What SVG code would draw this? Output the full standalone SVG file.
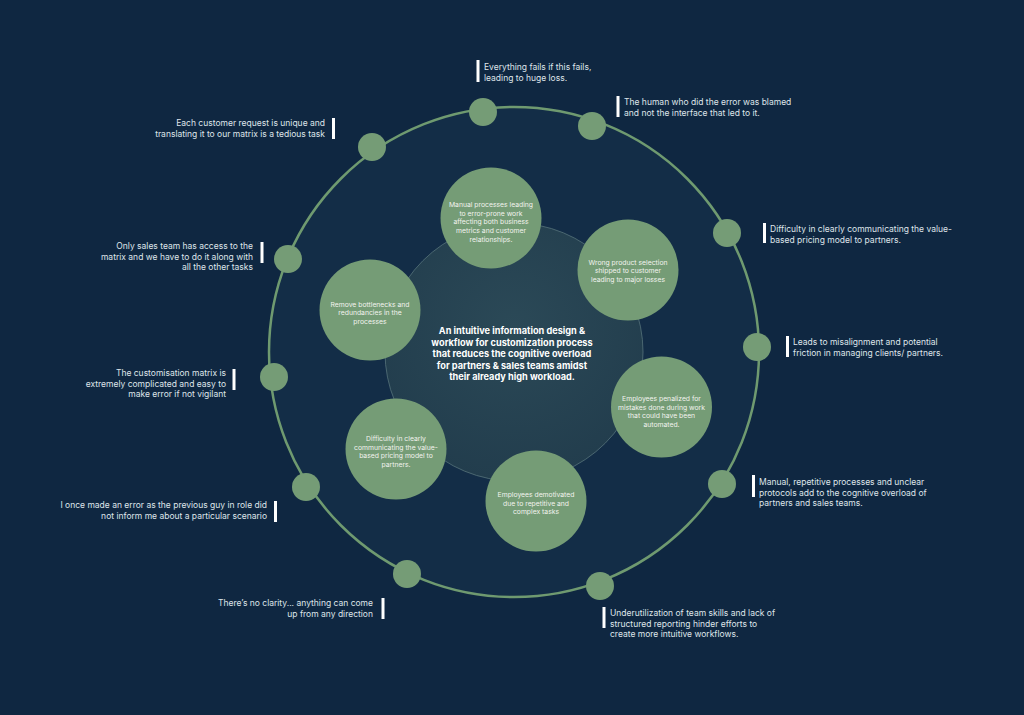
<svg xmlns="http://www.w3.org/2000/svg" width="1024" height="715" viewBox="0 0 1024 715">
<defs>
<radialGradient id="core" cx="50%" cy="40%" r="60%">
<stop offset="0" stop-color="#2b4957"/>
<stop offset="1" stop-color="#223d4d"/>
</radialGradient>
</defs>
<style>
.lbl{font-family:Inter,"Liberation Sans",sans-serif;font-size:8.5px;fill:#dfe5ea}
.r{text-anchor:end}
.bar{fill:#ffffff}
.g{fill:#759c76}
.gt{font-family:Inter,"Liberation Sans",sans-serif;font-size:6.8px;fill:#f2f3ee;text-anchor:middle}
.tt{font-family:Inter,"Liberation Sans",sans-serif;font-size:9.2px;font-weight:700;fill:#ffffff;text-anchor:middle}
.dot{fill:#759c76}
</style>
<rect width="1024" height="715" fill="#0f2741"/>
<g id="connectors">
<circle cx="514" cy="352" r="245" fill="#132d47" stroke="#6f9a70" stroke-width="2.5"/>
</g>
<g id="core-node">
<circle cx="514" cy="352" r="129" fill="url(#core)" stroke="#56727a" stroke-width="0.8"/>
<text class="tt"><tspan x="512" y="334">An intuitive information design &amp;</tspan><tspan x="512" y="345.5">workflow for customization process</tspan><tspan x="512" y="357">that reduces the cognitive overload</tspan><tspan x="512" y="368.5">for partners &amp; sales teams amidst</tspan><tspan x="512" y="380">their already high workload.</tspan></text>
</g>
<g id="node-manual">
<circle class="g" cx="491" cy="218" r="50.5"/>
<text class="gt"><tspan x="491" y="207">Manual processes leading</tspan><tspan x="491" y="215.7">to error-prone work</tspan><tspan x="491" y="224.4">affecting both business</tspan><tspan x="491" y="233.1">metrics and customer</tspan><tspan x="491" y="241.8">relationships.</tspan></text>
</g>
<g id="node-wrong">
<circle class="g" cx="628" cy="270" r="50.5"/>
<text class="gt"><tspan x="628" y="264.5">Wrong product selection</tspan><tspan x="628" y="273.2">shipped to customer</tspan><tspan x="628" y="281.9">leading to major losses</tspan></text>
</g>
<g id="node-remove">
<circle class="g" cx="370" cy="310" r="50.5"/>
<text class="gt"><tspan x="370" y="306.5">Remove bottlenecks and</tspan><tspan x="370" y="315.2">redundancies in the</tspan><tspan x="370" y="323.9">processes</tspan></text>
</g>
<g id="node-penalized">
<circle class="g" cx="661.5" cy="407" r="50.5"/>
<text class="gt"><tspan x="661.5" y="401">Employees penalized for</tspan><tspan x="661.5" y="409.7">mistakes done during work</tspan><tspan x="661.5" y="418.4">that could have been</tspan><tspan x="661.5" y="427.1">automated.</tspan></text>
</g>
<g id="node-difficulty">
<circle class="g" cx="396" cy="449" r="50.5"/>
<text class="gt"><tspan x="396" y="441">Difficulty in clearly</tspan><tspan x="396" y="449.7">communicating the value-</tspan><tspan x="396" y="458.4">based pricing model to</tspan><tspan x="396" y="467.1">partners.</tspan></text>
</g>
<g id="node-demotivated">
<circle class="g" cx="536" cy="501" r="50.5"/>
<text class="gt"><tspan x="536" y="497">Employees demotivated</tspan><tspan x="536" y="505.7">due to repetitive and</tspan><tspan x="536" y="514.4">complex tasks</tspan></text>
</g>
<g id="dots">
<circle class="dot" cx="483" cy="112" r="14"/>
<circle class="dot" cx="592" cy="126" r="14"/>
<circle class="dot" cx="372" cy="147" r="14"/>
<circle class="dot" cx="727" cy="233" r="14"/>
<circle class="dot" cx="288" cy="259" r="14"/>
<circle class="dot" cx="757" cy="347" r="14"/>
<circle class="dot" cx="274" cy="377" r="14"/>
<circle class="dot" cx="306" cy="487" r="14"/>
<circle class="dot" cx="722" cy="484" r="14"/>
<circle class="dot" cx="407" cy="574" r="14"/>
<circle class="dot" cx="600" cy="586" r="14"/>
</g>
<g id="label-everything">
<rect class="bar" x="476.5" y="60" width="3" height="22"/>
<text class="lbl"><tspan x="484" y="70">Everything fails if this fails,</tspan><tspan x="484" y="80.5">leading to huge loss.</tspan></text>
</g>
<g id="label-human">
<rect class="bar" x="616.5" y="96" width="3" height="21"/>
<text class="lbl"><tspan x="624" y="105">The human who did the error was blamed</tspan><tspan x="624" y="115.5">and not the interface that led to it.</tspan></text>
</g>
<g id="label-each">
<rect class="bar" x="332" y="118" width="3" height="21"/>
<text class="lbl r"><tspan x="325" y="126">Each customer request is unique and</tspan><tspan x="325" y="136.5">translating it to our matrix is a tedious task</tspan></text>
</g>
<g id="label-only">
<rect class="bar" x="260.5" y="242" width="3" height="21"/>
<text class="lbl r"><tspan x="253" y="249">Only sales team has access to the</tspan><tspan x="253" y="259.5">matrix and we have to do it along with</tspan><tspan x="253" y="270">all the other tasks</tspan></text>
</g>
<g id="label-matrix">
<rect class="bar" x="232.5" y="369" width="3" height="21"/>
<text class="lbl r"><tspan x="226" y="376">The customisation matrix is</tspan><tspan x="226" y="386.5">extremely complicated and easy to</tspan><tspan x="226" y="397">make error if not vigilant</tspan></text>
</g>
<g id="label-once">
<rect class="bar" x="274" y="501" width="3" height="21"/>
<text class="lbl r"><tspan x="267" y="508">I once made an error as the previous guy in role did</tspan><tspan x="267" y="518.5">not inform me about a particular scenario</tspan></text>
</g>
<g id="label-clarity">
<rect class="bar" x="381.5" y="598" width="3" height="21"/>
<text class="lbl r"><tspan x="373" y="606">There’s no clarity... anything can come</tspan><tspan x="373" y="616.5">up from any direction</tspan></text>
</g>
<g id="label-underutilization">
<rect class="bar" x="602.5" y="607" width="3" height="21"/>
<text class="lbl"><tspan x="610" y="616">Underutilization of team skills and lack of</tspan><tspan x="610" y="626.5">structured reporting hinder efforts to</tspan><tspan x="610" y="637">create more intuitive workflows.</tspan></text>
</g>
<g id="label-manual">
<rect class="bar" x="752" y="475" width="3" height="22"/>
<text class="lbl"><tspan x="759" y="485">Manual, repetitive processes and unclear</tspan><tspan x="759" y="495.5">protocols add to the cognitive overload of</tspan><tspan x="759" y="506">partners and sales teams.</tspan></text>
</g>
<g id="label-leads">
<rect class="bar" x="786" y="336" width="3" height="21"/>
<text class="lbl"><tspan x="793" y="345">Leads to misalignment and potential</tspan><tspan x="793" y="355.5">friction in managing clients/ partners.</tspan></text>
</g>
<g id="label-difficulty">
<rect class="bar" x="763" y="223" width="3" height="20"/>
<text class="lbl"><tspan x="770" y="232">Difficulty in clearly communicating the value-</tspan><tspan x="770" y="242.5">based pricing model to partners.</tspan></text>
</g>
</svg>
